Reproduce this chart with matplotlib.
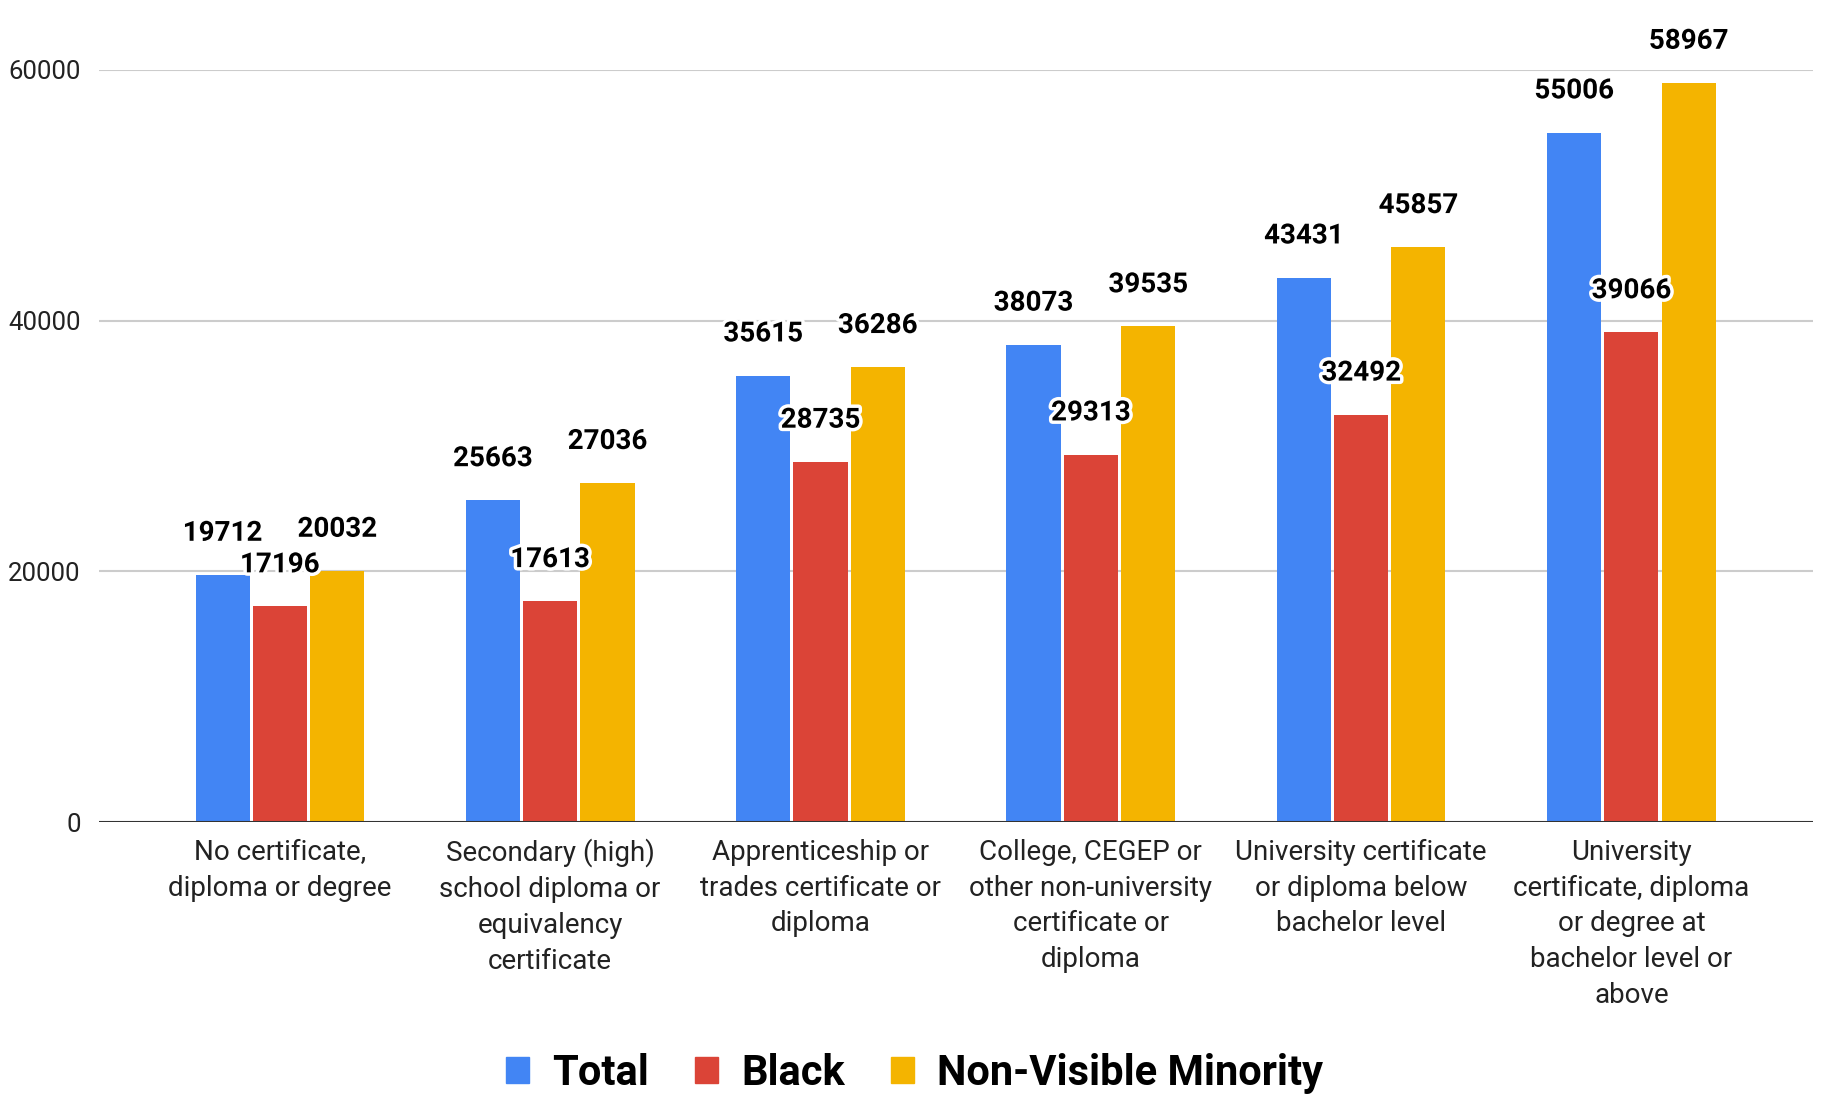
import matplotlib
matplotlib.use("Agg")
import matplotlib.pyplot as plt
import matplotlib.patheffects as pe
from matplotlib.patches import Patch
import numpy as np

plt.rcParams['font.family'] = ['Roboto', 'DejaVu Sans']

categories = [
    "No certificate,\ndiploma or degree",
    "Secondary (high)\nschool diploma or\nequivalency\ncertificate",
    "Apprenticeship or\ntrades certificate or\ndiploma",
    "College, CEGEP or\nother non-university\ncertificate or\ndiploma",
    "University certificate\nor diploma below\nbachelor level",
    "University\ncertificate, diploma\nor degree at\nbachelor level or\nabove",
]
series_names = ["Total", "Black", "Non-Visible Minority"]
total = [19712, 25663, 35615, 38073, 43431, 55006]
black = [17196, 17613, 28735, 29313, 32492, 39066]
non_visible = [20032, 27036, 36286, 39535, 45857, 58967]
colors = ["#4285F4", "#DB4437", "#F4B400"]
yticks = [0, 20000, 40000, 60000]

fig = plt.figure(figsize=(18.29, 11.0), dpi=100)
ax = fig.add_axes([0.054, 0.2527, 0.937, 0.6837])

x = np.arange(len(categories))
step = 0.212
for i, (vals, col) in enumerate(zip([total, black, non_visible], colors)):
    pos = x + (i - 1) * step
    ax.bar(pos, vals, width=0.2, color=col, zorder=3)
    for px, v in zip(pos, vals):
        ax.annotate(str(v), (px, v), xytext=(0, 30), textcoords='offset points',
                    ha='center', va='center', fontsize=20, fontweight='bold',
                    color='black', zorder=5, annotation_clip=False,
                    path_effects=[pe.withStroke(linewidth=5, foreground='white')])

ax.set_xlim(-0.67, len(categories) - 1 + 0.67)
ax.set_ylim(0, 60000)
ax.set_yticks(yticks)
ax.set_yticklabels([str(t) for t in yticks], fontsize=18.5, color='#222222')
ax.set_xticks(x)
ax.set_xticklabels(categories, fontsize=20, color='#222222', linespacing=1.42)
ax.tick_params(axis='both', length=0)
ax.tick_params(axis='x', pad=12)
ax.tick_params(axis='y', pad=13)

ax.grid(axis='y', color='#cccccc', linewidth=1.5, zorder=0)
ax.axhline(0, color='#333333', linewidth=2.2, zorder=4)
for s in ['top', 'right', 'left', 'bottom']:
    ax.spines[s].set_visible(False)

handles = [Patch(facecolor=c, edgecolor=c) for c in colors]
fig.legend(handles, series_names, loc='center', bbox_to_anchor=(0.5, 0.0245),
           ncol=3, frameon=False, prop={'family': 'Roboto', 'weight': 'bold', 'size': 30},
           handlelength=0.56, handleheight=0.56, handletextpad=0.55, columnspacing=1.1)

fig.savefig("out.png", dpi=100)
